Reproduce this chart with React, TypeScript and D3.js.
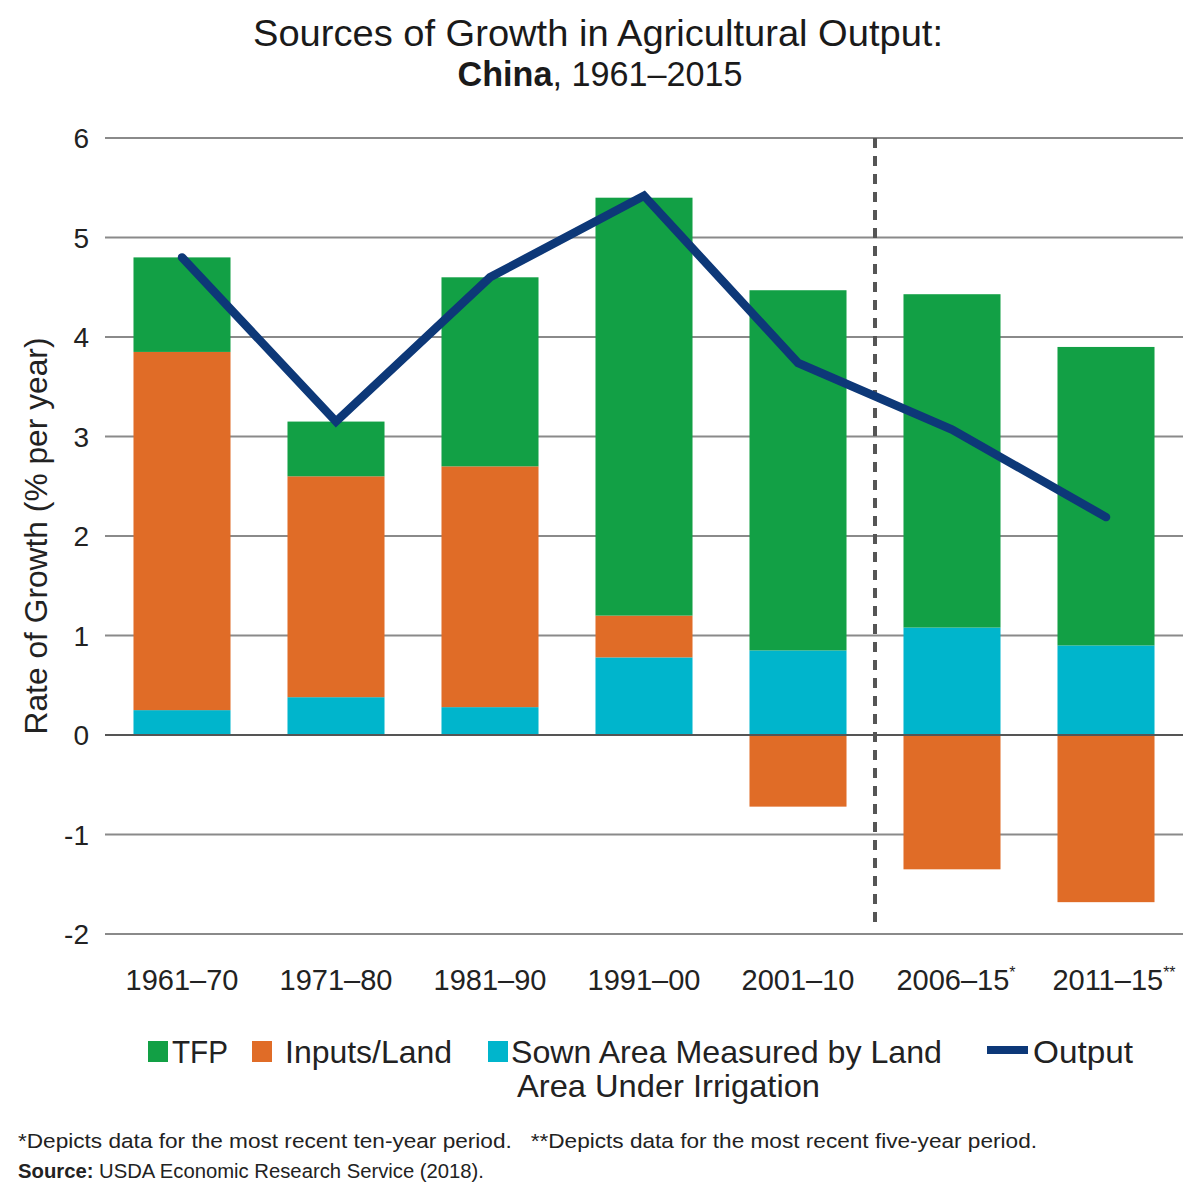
import React from "react";
import * as d3 from "d3";

const categories = ["1961–70", "1971–80", "1981–90", "1991–00", "2001–10", "2006–15", "2011–15"];
const superscripts = ["", "", "", "", "", "*", "**"];
const irrigation = [0.25, 0.38, 0.28, 0.78, 0.85, 1.08, 0.9];
const inputsLand = [3.6, 2.22, 2.42, 0.42, -0.72, -1.35, -1.68];
const tfp = [0.95, 0.55, 1.9, 4.2, 3.62, 3.35, 3.0];
const output = [4.8, 3.15, 4.6, 5.42, 3.74, 3.07, 2.19];
const yTicks = [-2, -1, 0, 1, 2, 3, 4, 5, 6];

const GREEN = "#12a045";
const ORANGE = "#e06c27";
const CYAN = "#00b5cc";
const NAVY = "#0d3878";
const GRID = "#8a8a8a";

const SANS = "'Liberation Sans', Arial, Helvetica, sans-serif";

export default function App() {
  const W = 1196;
  const H = 1200;
  const x = d3.scaleBand<string>().domain(categories).range([105, 1183]).paddingInner(0.37).paddingOuter(0.185);
  const y = d3.scaleLinear().domain([-2, 6]).range([934, 138]);
  const bw = x.bandwidth();

  const segs: { cat: string; y0: number; y1: number; color: string }[] = [];
  categories.forEach((c, i) => {
    let pos = 0;
    let neg = 0;
    const add = (v: number, color: string) => {
      if (v >= 0) {
        segs.push({ cat: c, y0: pos, y1: pos + v, color });
        pos += v;
      } else {
        segs.push({ cat: c, y0: neg + v, y1: neg, color });
        neg += v;
      }
    };
    add(irrigation[i], CYAN);
    add(inputsLand[i], ORANGE);
    add(tfp[i], GREEN);
  });

  const line = d3
    .line<number>()
    .x((_, i) => (x(categories[i]) as number) + bw / 2)
    .y((d) => y(d));

  const dashX = ((x(categories[4]) as number) + bw + (x(categories[5]) as number)) / 2;

  return (
    <svg width={W} height={H} style={{ display: "block", margin: "-8px" }} viewBox={`0 0 ${W} ${H}`}>
      <rect width={W} height={H} fill="#fff" />
      <text x={598} y={46} textAnchor="middle" fontFamily={SANS} fontSize={36} fill="#1a1a1a" textLength={690} lengthAdjust="spacingAndGlyphs">
        Sources of Growth in Agricultural Output:
      </text>
      <text x={600} y={86} textAnchor="middle" fontFamily={SANS} fontSize={35} fill="#1a1a1a" textLength={285} lengthAdjust="spacingAndGlyphs">
        <tspan fontWeight="bold">China</tspan>, 1961–2015
      </text>

      {yTicks.map((t) =>
        t === 0 ? null : (
          <line key={"g" + t} x1={105} x2={1183} y1={y(t)} y2={y(t)} stroke={GRID} strokeWidth={2} />
        )
      )}
      {yTicks.map((t) => (
        <text key={"t" + t} x={89} y={y(t) + 10} textAnchor="end" fontFamily={SANS} fontSize={28} fill="#222">
          {t}
        </text>
      ))}
      <text
        transform={`translate(47,536) rotate(-90)`}
        textAnchor="middle"
        fontFamily={SANS}
        fontSize={30.5}
        fill="#222"
        textLength={397}
        lengthAdjust="spacingAndGlyphs"
      >
        Rate of Growth (% per year)
      </text>

      {segs.map((s, i) => (
        <rect
          key={"b" + i}
          x={x(s.cat)}
          width={bw}
          y={y(s.y1)}
          height={y(s.y0) - y(s.y1)}
          fill={s.color}
        />
      ))}
      <line x1={105} x2={1183} y1={y(0)} y2={y(0)} stroke="#555" strokeWidth={2} />

      <line
        x1={dashX}
        x2={dashX}
        y1={y(6)}
        y2={922}
        stroke="#555"
        strokeWidth={4}
        strokeDasharray="10 8"
      />

      <path
        d={line(output) || ""}
        fill="none"
        stroke={NAVY}
        strokeWidth={8.5}
        strokeLinecap="round"
        strokeLinejoin="miter"
      />

      {categories.map((c, i) => (
        <text
          key={"x" + c}
          x={(x(c) as number) + bw / 2 + (superscripts[i] ? superscripts[i].length * 4 : 0)}
          y={990}
          textAnchor="middle"
          fontFamily={SANS}
          fontSize={29}
          fill="#222"
        >
          {c}
          {superscripts[i] ? (
            <tspan fontSize={16} dy={-12}>
              {superscripts[i]}
            </tspan>
          ) : null}
        </text>
      ))}

      <g fontFamily={SANS} fontSize={30.5} fill="#222">
        <rect x={148} y={1041} width={20} height={21} fill={GREEN} />
        <text x={172} y={1063} textLength={56} lengthAdjust="spacingAndGlyphs">TFP</text>
        <rect x={252} y={1041} width={20} height={21} fill={ORANGE} />
        <text x={285} y={1063} textLength={167} lengthAdjust="spacingAndGlyphs">Inputs/Land</text>
        <rect x={488} y={1041} width={20} height={21} fill={CYAN} />
        <text x={511} y={1063} textLength={431} lengthAdjust="spacingAndGlyphs">Sown Area Measured by Land</text>
        <text x={517} y={1097} textLength={303} lengthAdjust="spacingAndGlyphs">Area Under Irrigation</text>
        <line x1={987} x2={1028} y1={1050} y2={1050} stroke={NAVY} strokeWidth={8} />
        <text x={1033} y={1063} textLength={100} lengthAdjust="spacingAndGlyphs">Output</text>
      </g>

      <text x={18} y={1148} fontFamily={SANS} fontSize={20.5} fill="#222" textLength={1019} lengthAdjust="spacingAndGlyphs">
        *Depicts data for the most recent ten-year period.{"\u00a0\u00a0\u00a0"}**Depicts data for the most recent five-year period.
      </text>
      <text x={18} y={1178} fontFamily={SANS} fontSize={20} fill="#222" textLength={466} lengthAdjust="spacingAndGlyphs">
        <tspan fontWeight="bold">Source:</tspan> USDA Economic Research Service (2018).
      </text>
    </svg>
  );
}
